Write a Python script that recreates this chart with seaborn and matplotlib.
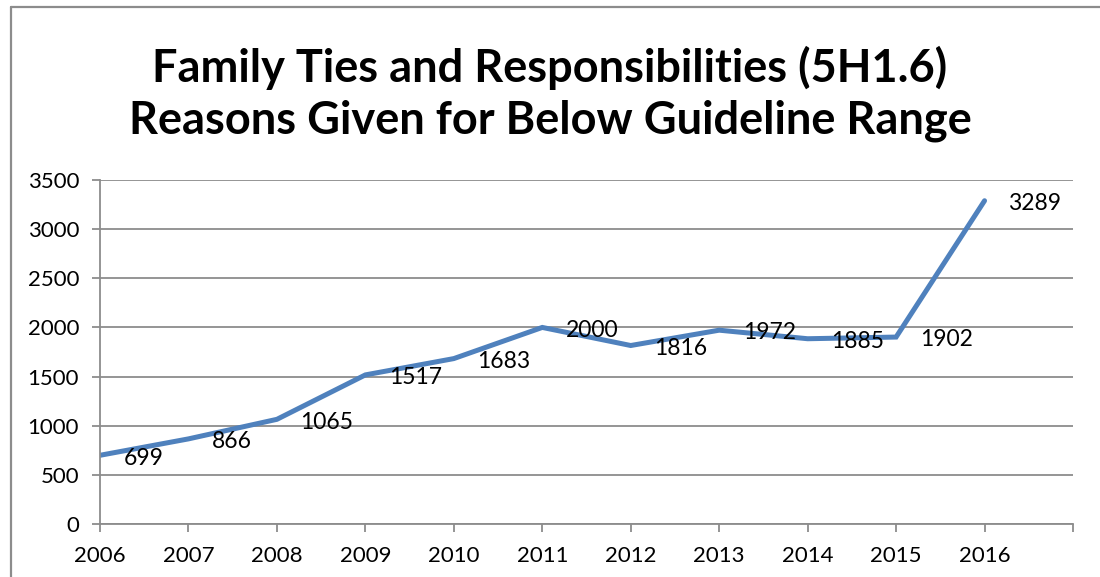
import matplotlib
matplotlib.use('Agg')
import matplotlib.pyplot as plt
import seaborn as sns
import pandas as pd

# chart data
years = ['2006', '2007', '2008', '2009', '2010', '2011',
         '2012', '2013', '2014', '2015', '2016']
counts = [699, 866, 1065, 1517, 1683, 2000, 1816, 1972, 1885, 1902, 3289]
y_ticks = [0, 500, 1000, 1500, 2000, 2500, 3000, 3500]

title = 'Family Ties and Responsibilities (5H1.6)\nReasons Given for Below Guideline Range'

sns.set_style('white')
plt.rcParams['font.family'] = ['Lato', 'DejaVu Sans']
plt.rcParams['text.color'] = 'black'

df = pd.DataFrame({'pos': range(len(years)), 'year': years, 'count': counts})

fig = plt.figure(figsize=(11, 5.77), dpi=100)
ax = fig.add_axes([100 / 1100, 1 - 524 / 577, 973 / 1100, 344 / 577])

sns.lineplot(data=df, x='pos', y='count', ax=ax, color='#4f81bd',
             linewidth=3.6, solid_joinstyle='miter', legend=False)

# data labels to the right of each point
for p, v in zip(df['pos'], df['count']):
    ax.annotate(str(v), (p, v), xytext=(17, -2), textcoords='offset points',
                ha='left', va='center', fontsize=16.5, color='black')

ax.set_xlim(0, len(years))
ax.set_ylim(0, 3500)
ax.set_xticks(range(len(years) + 1))
ax.set_xticklabels(years + [''])
ax.set_yticks(y_ticks)
ax.set_xlabel('')
ax.set_ylabel('')

ax.yaxis.grid(True, color='#8c8c8c', linewidth=1.3)
ax.xaxis.grid(False)
for side in ['top', 'right']:
    ax.spines[side].set_visible(False)
ax.spines['left'].set_color('#8c8c8c')
ax.spines['bottom'].set_color('#8c8c8c')
ax.spines['left'].set_linewidth(1.3)
ax.spines['bottom'].set_linewidth(1.3)
ax.tick_params(axis='both', direction='out', length=6, width=1.3,
               color='#8c8c8c', labelsize=16, labelcolor='black')
ax.tick_params(axis='x', pad=10, bottom=True)
ax.tick_params(axis='y', pad=9, left=True)

fig.text(0.5, 1 - 94 / 577, title, ha='center', va='center', color='black',
         fontsize=32.5, fontweight='bold', linespacing=1.3)

# outer chart border
fig.add_artist(plt.Line2D([11 / 1100, 11 / 1100], [0, 1 - 7 / 577],
                          color='#8c8c8c', linewidth=1.6))
fig.add_artist(plt.Line2D([11 / 1100, 1], [1 - 7 / 577, 1 - 7 / 577],
                          color='#8c8c8c', linewidth=1.6))

fig.savefig('out.png', dpi=100)
